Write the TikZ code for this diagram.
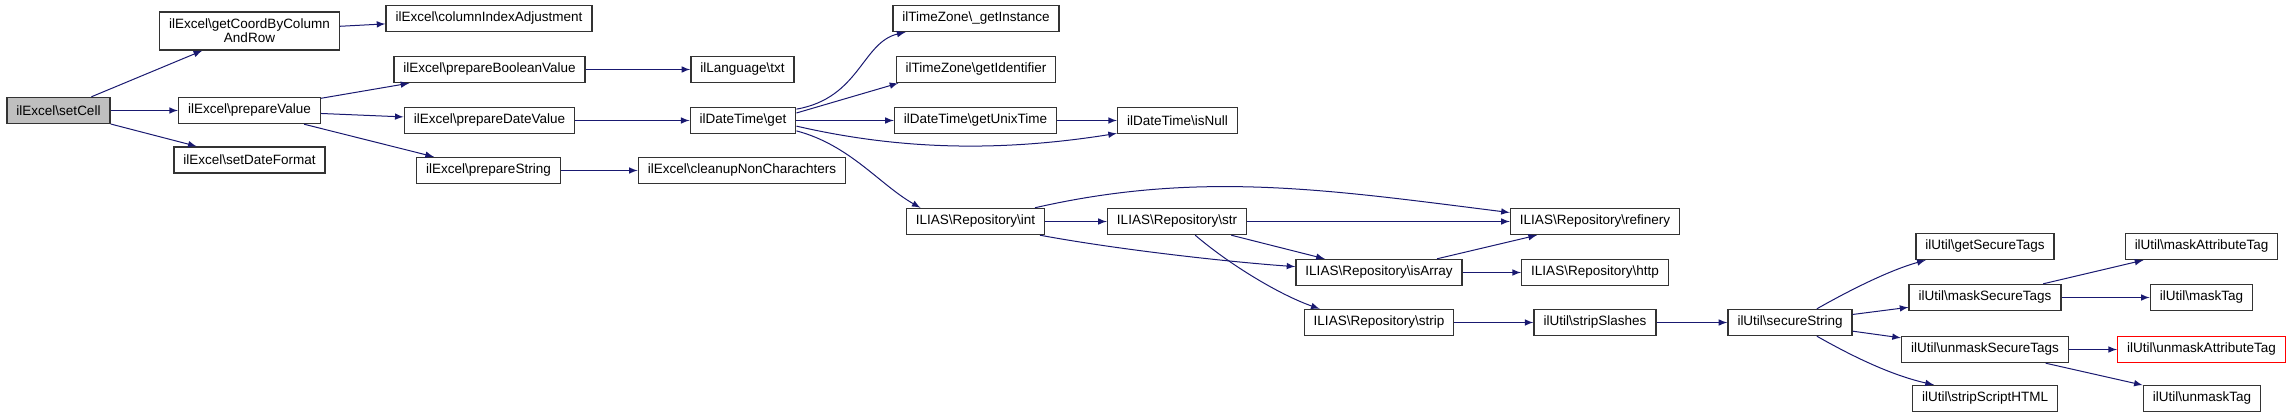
\documentclass[tikz,border=0pt]{standalone}
\usepackage{fontspec}
\setmainfont{Liberation Sans}
\definecolor{edgeblue}{HTML}{191970}
\newcommand{\bs}{\textbackslash}

\begin{document}
\begin{tikzpicture}[x=0.5pt,y=-0.5pt,
    fn/.style={draw=black!80,line width=0.7pt,fill=white,inner xsep=4.75pt,inner ysep=0pt,
      minimum height=13pt,font=\fontsize{6.75}{6.9}\selectfont},
    call/.style={draw=edgeblue,line width=0.5pt,-latex}]
    \useasboundingbox (0,0) rectangle (2292,417);
    % the functions, column by column
    \node[fn,fill=black!25] (setCell) at (58.5,110.5) {ilExcel\bs setCell};
    \node[fn,minimum height=19pt,align=center] (getCoord) at (249.5,31) {ilExcel\bs getCoordByColumn\\AndRow};
    \node[fn] (prepareValue) at (249.5,110.5) {ilExcel\bs prepareValue};
    \node[fn] (setDateFormat) at (249.5,160) {ilExcel\bs setDateFormat};
    \node[fn] (columnIndex) at (489,18.5) {ilExcel\bs columnIndexAdjustment};
    \node[fn] (prepareBool) at (489.5,69.5) {ilExcel\bs prepareBooleanValue};
    \node[fn] (prepareDate) at (489.5,120.5) {ilExcel\bs prepareDateValue};
    \node[fn] (prepareString) at (488.5,170.5) {ilExcel\bs prepareString};
    \node[fn] (txt) at (742.5,69.5) {ilLanguage\bs txt};
    \node[fn] (get) at (743,120.5) {ilDateTime\bs get};
    \node[fn] (cleanup) at (742,170.5) {ilExcel\bs cleanupNonCharachters};
    \node[fn] (getInstance) at (976,18.5) {ilTimeZone\bs\_getInstance};
    \node[fn] (getIdentifier) at (976,69.5) {ilTimeZone\bs getIdentifier};
    \node[fn] (getUnixTime) at (975.5,120.5) {ilDateTime\bs getUnixTime};
    \node[fn] (int) at (975.5,221.5) {ILIAS\bs Repository\bs int};
    \node[fn] (isNull) at (1177.5,120.5) {ilDateTime\bs isNull};
    \node[fn] (str) at (1177,221.5) {ILIAS\bs Repository\bs str};
    \node[fn] (isArray) at (1379,272.5) {ILIAS\bs Repository\bs isArray};
    \node[fn] (strip) at (1379,322.5) {ILIAS\bs Repository\bs strip};
    \node[fn] (refinery) at (1595,221.5) {ILIAS\bs Repository\bs refinery};
    \node[fn] (http) at (1595,272.5) {ILIAS\bs Repository\bs http};
    \node[fn] (stripSlashes) at (1595,322.5) {ilUtil\bs stripSlashes};
    \node[fn] (secureString) at (1790,322.5) {ilUtil\bs secureString};
    \node[fn] (getSecureTags) at (1985,246.5) {ilUtil\bs getSecureTags};
    \node[fn] (maskSecureTags) at (1985,297.5) {ilUtil\bs maskSecureTags};
    \node[fn] (unmaskSecureTags) at (1985,349.5) {ilUtil\bs unmaskSecureTags};
    \node[fn] (stripScriptHTML) at (1985,398.5) {ilUtil\bs stripScriptHTML};
    \node[fn] (maskAttributeTag) at (2201.5,246.5) {ilUtil\bs maskAttributeTag};
    \node[fn] (maskTag) at (2201.5,297.5) {ilUtil\bs maskTag};
    \node[fn,draw=red] (unmaskAttributeTag) at (2201.5,349.5) {ilUtil\bs unmaskAttributeTag};
    \node[fn] (unmaskTag) at (2202,398.5) {ilUtil\bs unmaskTag};
    % calls
    \draw[call] (setCell) -- (getCoord);
    \draw[call] (setCell) -- (prepareValue);
    \draw[call] (setCell) -- (setDateFormat);
    \draw[call] (getCoord) -- (columnIndex);
    \draw[call] (prepareValue) -- (prepareBool);
    \draw[call] (prepareValue) -- (prepareDate);
    \draw[call] (prepareValue) -- (prepareString);
    \draw[call] (prepareBool) -- (txt);
    \draw[call] (prepareDate) -- (get);
    \draw[call] (prepareString) -- (cleanup);
    \draw[call] (get.12) .. controls (860,98) and (862,42) .. (getInstance.-169);
    \draw[call] (get.8) -- (getIdentifier.-170);
    \draw[call] (get) -- (getUnixTime);
    \draw[call] (get.-6) .. controls (900,150) and (1000,152) .. (isNull.-168);
    \draw[call] (get.-11) .. controls (850,145) and (880,185) .. (int.166);
    \draw[call] (getUnixTime) -- (isNull);
    \draw[call] (int) -- (str);
    \draw[call] (int.13) .. controls (1200,170) and (1330,190) .. (refinery.174);
    \draw[call] (int.-12) .. controls (1120,250) and (1230,262) .. (isArray.176);
    \draw[call] (str) -- (refinery);
    \draw[call] (str) -- (isArray);
    \draw[call] (str.-37) .. controls (1230,265) and (1280,295) .. (strip.167);
    \draw[call] (isArray) -- (refinery);
    \draw[call] (isArray) -- (http);
    \draw[call] (strip) -- (stripSlashes);
    \draw[call] (stripSlashes) -- (secureString);
    \draw[call] (secureString.27) .. controls (1850,290) and (1890,270) .. (getSecureTags.-167);
    \draw[call] (secureString) -- (maskSecureTags);
    \draw[call] (secureString) -- (unmaskSecureTags);
    \draw[call] (secureString.-27) .. controls (1850,355) and (1890,375) .. (stripScriptHTML.165);
    \draw[call] (maskSecureTags) -- (maskAttributeTag);
    \draw[call] (maskSecureTags) -- (maskTag);
    \draw[call] (unmaskSecureTags) -- (unmaskAttributeTag);
    \draw[call] (unmaskSecureTags) -- (unmaskTag);
\end{tikzpicture}
\end{document}
